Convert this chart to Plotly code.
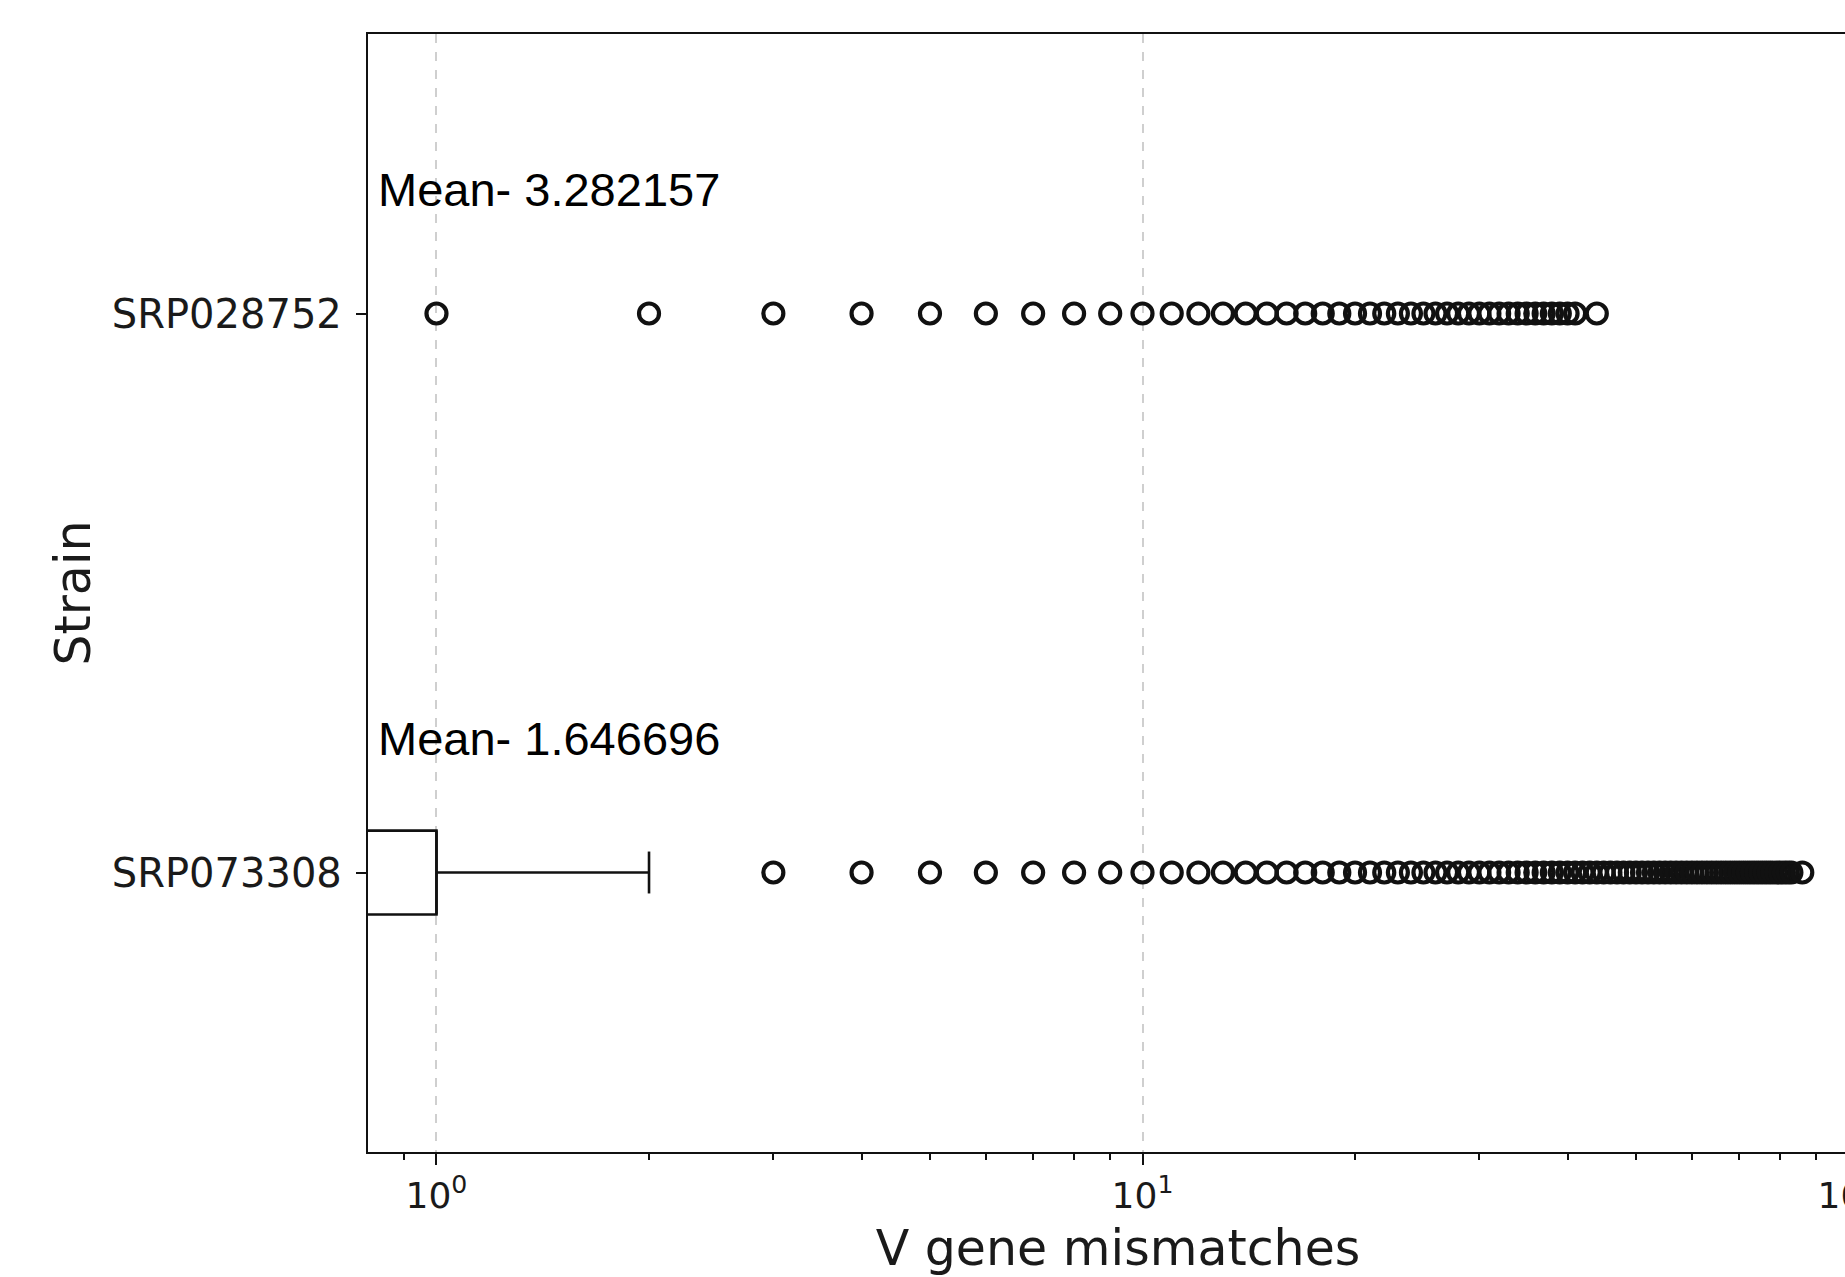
import math
import plotly.graph_objects as go

# ---------------- data ----------------
strains = ["SRP028752", "SRP073308"]
positions = [1, 2]
means = [3.282157, 1.646696]
q1 = [0, 0]
medians = [0, 1]
q3 = [0, 1]
whisker_low = [0, 0]
whisker_high = [0, 2]
outliers_SRP028752 = list(range(1, 42)) + [44]
outliers_SRP073308 = list(range(3, 84)) + [86]
outliers = [outliers_SRP028752, outliers_SRP073308]

major_ticks = [1, 10, 100]
major_labels = ["10<sup>0</sup>", "10<sup>1</sup>", "10<sup>2</sup>"]
minor_ticks = [0.9] + [2, 3, 4, 5, 6, 7, 8, 9] + [20, 30, 40, 50, 60, 70, 80, 90]

# ---------------- styling ----------------
BOX_W = 0.15
X_RANGE = [-0.097, 2.0276]
LOG_FLOOR = 10 ** (X_RANGE[0] - 0.5)   # stand-in for 0 on a log axis (clipped away)
TICK_FONT = "DejaVu Sans"
MEAN_LABEL_OFFSET = [0.221, 0.239]      # how far above each row the mean label sits
LINE_W = 2.6

def pos_x(v):
    return v if v > 0 else LOG_FLOOR

fig = go.Figure()

for i, name in enumerate(strains):
    p = positions[i]
    # box
    if q3[i] > q1[i]:
        fig.add_trace(go.Scatter(
            x=[pos_x(q1[i]), pos_x(q3[i]), pos_x(q3[i]), pos_x(q1[i]), pos_x(q1[i])],
            y=[p - BOX_W / 2, p - BOX_W / 2, p + BOX_W / 2, p + BOX_W / 2, p - BOX_W / 2],
            mode="lines", line=dict(color="#111111", width=LINE_W),
            showlegend=False, hoverinfo="skip"))
        # median
        fig.add_trace(go.Scatter(
            x=[pos_x(medians[i]), pos_x(medians[i])],
            y=[p - BOX_W / 2, p + BOX_W / 2],
            mode="lines", line=dict(color="#111111", width=LINE_W),
            showlegend=False, hoverinfo="skip"))
    # upper whisker + cap
    if whisker_high[i] > q3[i]:
        fig.add_trace(go.Scatter(
            x=[pos_x(q3[i]), pos_x(whisker_high[i])], y=[p, p],
            mode="lines", line=dict(color="#111111", width=LINE_W),
            showlegend=False, hoverinfo="skip"))
        fig.add_trace(go.Scatter(
            x=[pos_x(whisker_high[i]), pos_x(whisker_high[i])],
            y=[p - BOX_W / 4, p + BOX_W / 4],
            mode="lines", line=dict(color="#111111", width=LINE_W),
            showlegend=False, hoverinfo="skip"))
    # outliers
    fig.add_trace(go.Scatter(
        x=outliers[i], y=[p] * len(outliers[i]),
        mode="markers",
        marker=dict(symbol="circle-open", size=20, color="#111111",
                    line=dict(width=4.2, color="#111111")),
        showlegend=False, name=name))
    # mean annotation
    fig.add_annotation(
        x=math.log10(0.822), y=p - MEAN_LABEL_OFFSET[i], xref="x", yref="y",
        text=f"Mean- {means[i]:.6f}", showarrow=False,
        xanchor="left", yanchor="middle",
        font=dict(family="Liberation Sans, Arial", size=47, color="black"))

fig.update_layout(
    width=1900, height=1277,
    margin=dict(l=368, r=32, t=34, b=125),
    paper_bgcolor="white", plot_bgcolor="white",
    showlegend=False,
    font=dict(family=TICK_FONT, color="#1a1a1a"),
)

fig.update_xaxes(
    type="log", range=X_RANGE,
    showline=True, linecolor="#111111", linewidth=2.4, mirror=True,
    ticks="outside", ticklen=11, tickwidth=2.2, tickcolor="#111111",
    tickmode="array", tickvals=major_ticks, ticktext=major_labels,
    tickfont=dict(family=TICK_FONT, size=36, color="#1a1a1a"),
    showgrid=True, gridcolor="#cfcfcf", gridwidth=1.5, griddash="dash",
    zeroline=False, automargin=False,
    minor=dict(tickmode="array", tickvals=minor_ticks, ticks="outside",
               ticklen=6, tickwidth=1.6, tickcolor="#111111", showgrid=False),
    title=dict(text="V gene mismatches", standoff=15,
               font=dict(family=TICK_FONT, size=49, color="#1a1a1a")),
)

fig.update_yaxes(
    range=[2.5, 0.5],
    tickmode="array", tickvals=positions, ticktext=strains,
    showline=True, linecolor="#111111", linewidth=2.4, mirror=False,
    ticks="outside", ticklen=10, tickwidth=2.2, tickcolor="#111111",
    ticklabelstandoff=6,
    tickfont=dict(family=TICK_FONT, size=40, color="#1a1a1a"),
    showgrid=False, zeroline=False, automargin=False,
    title=dict(text="Strain", standoff=6,
               font=dict(family=TICK_FONT, size=49, color="#1a1a1a")),
)

fig.write_html(
    "out.html",
    config={"displayModeBar": False},
    post_script=("document.documentElement.style.overflow='hidden';"
                 "document.body.style.margin='0';"
                 "document.body.style.overflow='hidden';"),
)
